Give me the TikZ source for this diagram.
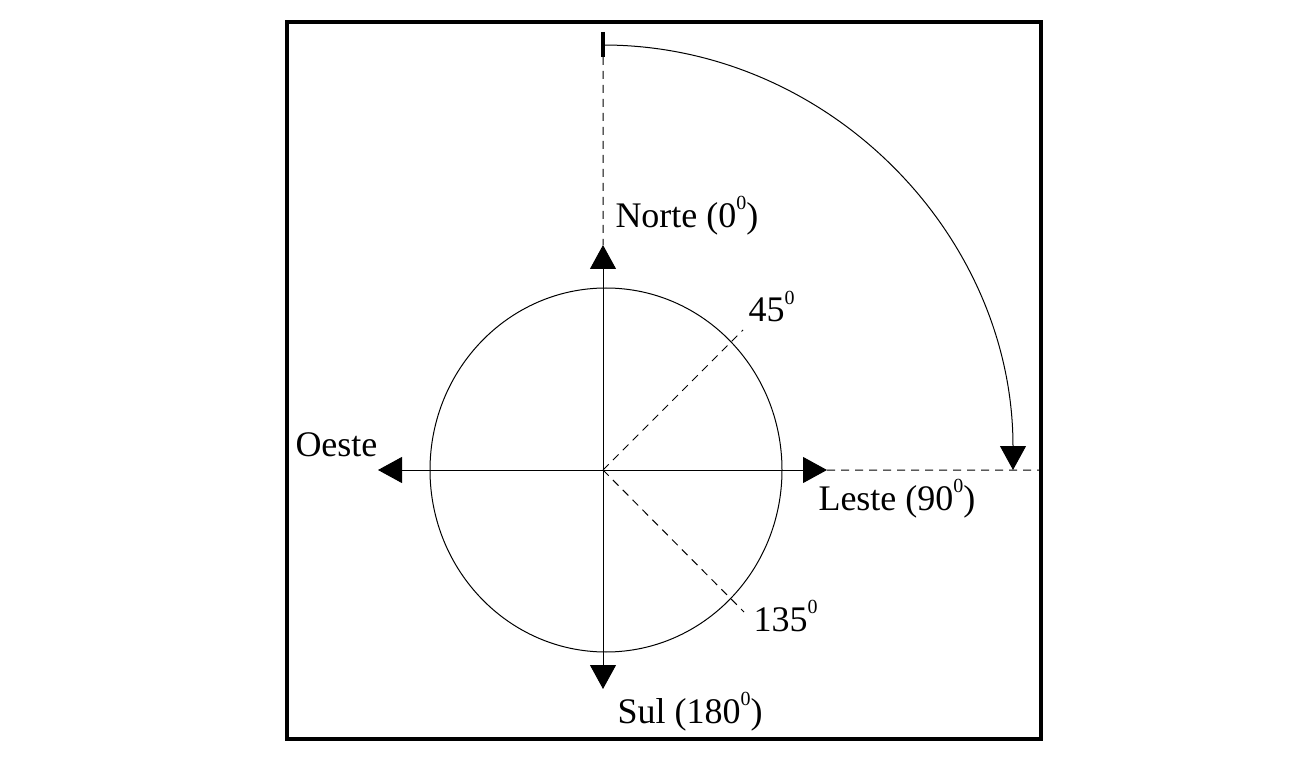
\documentclass[tikz,border=0pt]{standalone}
\usepackage{fontspec}
\setmainfont{Liberation Serif}
\usetikzlibrary{arrows.meta}
\newcommand\grau{\raisebox{0.5em}{\fontsize{10}{10}\selectfont 0}}
\begin{document}
\begin{tikzpicture}[x=0.5pt,y=-0.5pt,line width=0.5pt,font=\fontsize{18}{20}\selectfont,
  tip/.style={-{Triangle[width=13pt,length=12pt]}},
  guide/.style={dash pattern=on 4pt off 3pt},
  lbl/.style={anchor=base west,inner sep=0pt}]
\useasboundingbox(0,0)rectangle(1302,770);
\draw[line width=2pt](287,22)rectangle(1041,739);
\coordinate(O)at(603,470);\coordinate(C)at(606,470);\coordinate(N)at(603,245);\coordinate(S)at(603,689);\coordinate(W)at(378,470);\coordinate(E)at(827,470);
\coordinate(T1)at(603,32);\coordinate(T2)at(603,57);\coordinate(R)at(1041,470);
\coordinate(D45)at(743,330);\coordinate(D135)at(744,612);
\draw(C)ellipse[x radius=88pt,y radius=91pt];
\foreach\p in{N,S,W,E}{\draw[tip](O)--(\p);}
\draw[guide](T2)--(N) (E)--(R) (O)--(D45) (O)--(D135);
\draw[line width=2pt](T1)--(T2);
\draw[tip](603,45)arc[start angle=90,end angle=0,x radius=205pt,y radius=212.5pt];
\node[lbl](norte)at(615,228){Norte (0\grau)};
\node[lbl](oeste)at(295,457){Oeste};
\node[lbl](leste)at(818,510){Leste (90\grau)};
\node[lbl](sul)at(617,723){Sul (180\grau)};
\node[lbl](g45)at(748,322){45\grau};
\node[lbl](g135)at(753,631){135\grau};
\end{tikzpicture}
\end{document}
